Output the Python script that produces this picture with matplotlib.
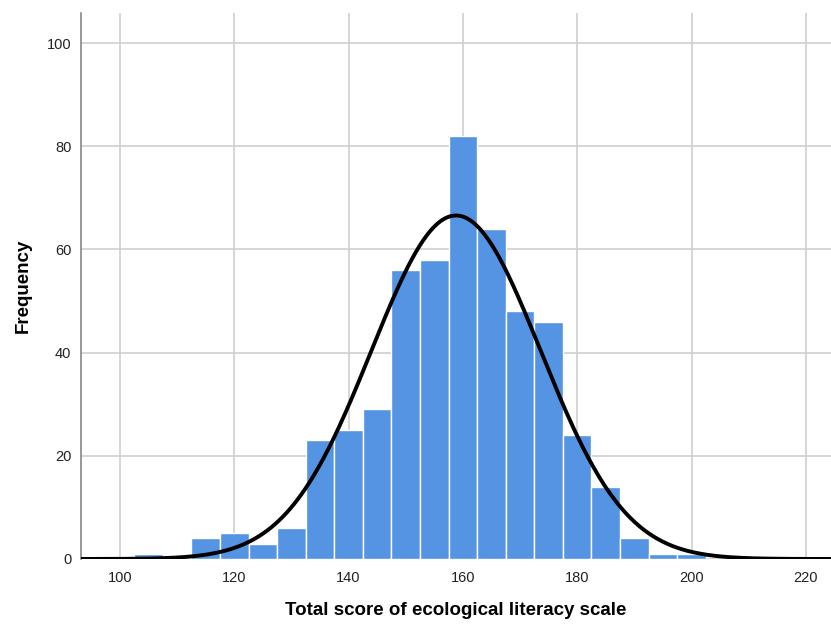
import matplotlib
matplotlib.use('Agg')
import matplotlib.pyplot as plt
import numpy as np

plt.rcParams['font.family'] = ['Liberation Sans', 'DejaVu Sans']

# Histogram bins (centres, width 5) and counts
bin_centers = [105, 110, 115, 120, 125, 130, 135, 140, 145, 150, 155,
               160, 165, 170, 175, 180, 185, 190, 195, 200]
counts = [1, 0, 4, 5, 3, 6, 23, 25, 29, 56, 58,
          82, 64, 48, 46, 24, 14, 4, 1, 1]
bin_width = 5

# Normal curve parameters
mean = 158.8
std_dev = 14.8
n = sum(counts)

x_ticks = [100, 120, 140, 160, 180, 200, 220]
y_ticks = [0, 20, 40, 60, 80, 100]

fig = plt.figure(figsize=(8.31, 6.25), dpi=100)
ax = fig.add_axes([0.0975, 0.1056, 0.9025, 0.8734])

ax.bar(bin_centers, counts, width=bin_width, color='#5593E3',
       edgecolor='white', linewidth=1.0, zorder=2)

xs = np.linspace(92, 226, 600)
ys = n * bin_width / (std_dev * np.sqrt(2 * np.pi)) * np.exp(-0.5 * ((xs - mean) / std_dev) ** 2)
ax.plot(xs, ys, color='black', linewidth=2.8, zorder=3)

ax.set_xlim(93.2, 224.4)
ax.set_ylim(0, 105.8)
ax.set_xticks(x_ticks)
ax.set_yticks(y_ticks)
ax.grid(True, color='#CFCFCF', linewidth=1.2, zorder=0)
ax.set_axisbelow(True)
ax.tick_params(length=0, labelsize=10.5, colors='#222222')
ax.tick_params(axis='x', pad=9)
ax.tick_params(axis='y', pad=7)

for s in ['top', 'right', 'bottom']:
    ax.spines[s].set_visible(False)
ax.spines['left'].set_color('#888888')
ax.spines['left'].set_linewidth(1.2)

ax.set_xlabel('Total score of ecological literacy scale', fontsize=13.5,
              fontweight='bold', labelpad=12)
ax.set_ylabel('Frequency', fontsize=13.5, fontweight='bold', labelpad=11)

fig.savefig('out.png', dpi=100)
